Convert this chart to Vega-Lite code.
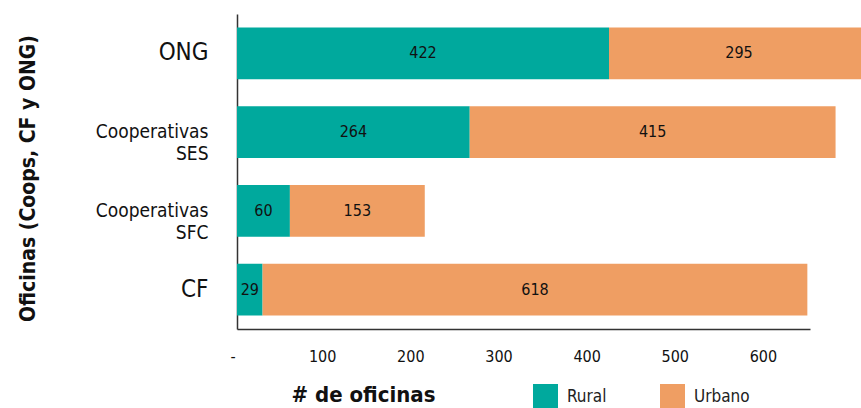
{
  "$schema": "https://vega.github.io/schema/vega-lite/v6.json",
  "autosize": "none",
  "padding": {"left": 237, "top": 14, "right": 51, "bottom": 79},
  "width": 573,
  "height": 315,
  "config": {
    "view": {"stroke": null},
    "font": "DejaVu Sans Condensed"
  },
  "data": {
    "values": [
      {"tipo": "ONG", "zona": "Rural", "oficinas": 422},
      {"tipo": "ONG", "zona": "Urbano", "oficinas": 295},
      {"tipo": "Cooperativas SES", "zona": "Rural", "oficinas": 264},
      {"tipo": "Cooperativas SES", "zona": "Urbano", "oficinas": 415},
      {"tipo": "Cooperativas SFC", "zona": "Rural", "oficinas": 60},
      {"tipo": "Cooperativas SFC", "zona": "Urbano", "oficinas": 153},
      {"tipo": "CF", "zona": "Rural", "oficinas": 29},
      {"tipo": "CF", "zona": "Urbano", "oficinas": 618}
    ]
  },
  "transform": [
    {"stack": "oficinas", "groupby": ["tipo"], "sort": [{"field": "zona", "order": "ascending"}], "as": ["x0", "x1"]},
    {"calculate": "(datum.x0 + datum.x1) / 2", "as": "xmid"}
  ],
  "encoding": {
    "y": {
      "field": "tipo",
      "type": "nominal",
      "sort": ["ONG", "Cooperativas SES", "Cooperativas SFC", "CF"],
      "scale": {"paddingInner": 0.34, "paddingOuter": 0.17},
      "axis": {
        "title": "Oficinas (Coops, CF y ONG)",
        "titleFont": "DejaVu Sans Condensed",
        "titleFontWeight": "bold",
        "titleFontSize": 21,
        "titleColor": "#111",
        "titleAngle": 270,
        "titleAlign": "center",
        "titleBaseline": "middle",
        "titleX": -209,
        "titleY": 164,
        "ticks": false,
        "labelPadding": 29,
        "labelExpr": "split(datum.value, ' ')",
        "labelFontSize": {"condition": {"test": "length(datum.value) < 4", "value": 24}, "value": 19},
        "labelLineHeight": 22,
        "labelColor": "#111",
        "domainColor": "#333",
        "domainWidth": 1.5
      }
    }
  },
  "layer": [
    {
      "mark": {"type": "bar", "clip": false},
      "encoding": {
        "x": {
          "field": "x0",
          "type": "quantitative",
          "scale": {"domain": [0, 650], "nice": false},
          "axis": {
            "values": [0, 100, 200, 300, 400, 500, 600],
            "labelExpr": "datum.value == 0 ? '-' : datum.label",
            "labelFontSize": 16,
            "labelColor": "#111",
            "labelOffset": {"condition": {"test": "datum.value == 0", "value": -7}, "value": -3},
            "labelPadding": 19,
            "ticks": false,
            "grid": false,
            "domainColor": "#333",
            "domainWidth": 1.5,
            "title": "# de oficinas",
            "titleFont": "DejaVu Sans Condensed",
            "titleFontWeight": "bold",
            "titleFontSize": 22,
            "titleColor": "#111",
            "titleAlign": "center",
            "titleBaseline": "alphabetic",
            "titleX": 126,
            "titleY": 72
          }
        },
        "x2": {"field": "x1"},
        "color": {
          "field": "zona",
          "type": "nominal",
          "scale": {"domain": ["Rural", "Urbano"], "range": ["#00A99D", "#EF9E63"]},
          "legend": {
            "orient": "none",
            "direction": "horizontal",
            "legendX": 296,
            "legendY": 370,
            "title": null,
            "padding": 0,
            "symbolType": "square",
            "symbolSize": 625,
            "symbolStrokeWidth": 0,
            "symbolOpacity": 1,
            "labelFontSize": 17,
            "labelColor": "#222",
            "labelOffset": 9,
            "columnPadding": 53
          }
        }
      }
    },
    {
      "mark": {"type": "text", "fontSize": 16, "color": "#111", "baseline": "middle", "align": "center"},
      "encoding": {
        "x": {"field": "xmid", "type": "quantitative"},
        "text": {"field": "oficinas", "type": "quantitative"}
      }
    }
  ]
}
